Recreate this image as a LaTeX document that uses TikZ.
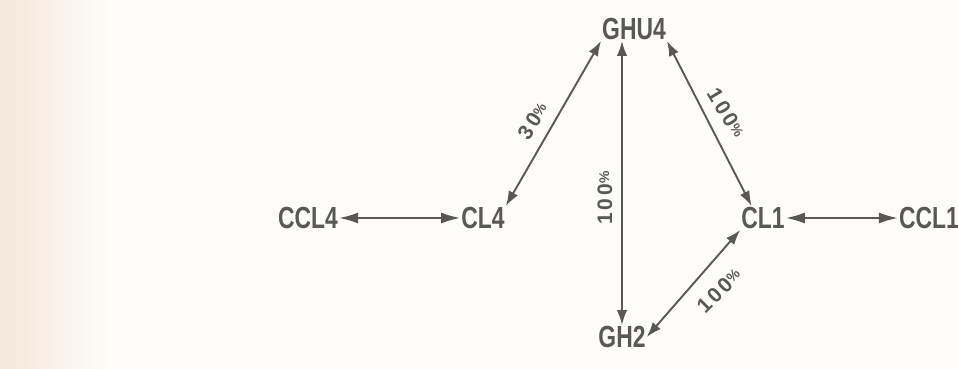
\documentclass[tikz,border=0pt]{standalone}
\usepackage{fontspec}
\newfontfamily\nodefont[FakeStretch=0.75]{Liberation Sans}
\newfontfamily\pctfont[LetterSpace=14]{Liberation Sans}
\usetikzlibrary{arrows.meta,calc}
\definecolor{ink}{HTML}{585858}
\definecolor{paper}{HTML}{FDFCF8}
\definecolor{bleed}{HTML}{F3E7D9}
\begin{document}
\begin{tikzpicture}[x=1pt,y=-1pt,
  site/.style={font=\nodefont\bfseries\fontsize{30.5}{30}\selectfont, text=ink, inner sep=1pt},
  share/.style={font=\pctfont\bfseries\fontsize{21}{21}\selectfont, text=ink, inner sep=0pt},
  link/.style={draw=ink, line width=1.9pt, {Latex[length=15pt,width=10.5pt]}-{Latex[length=15pt,width=10.5pt]}},
  longlink/.style={link, {Latex[length=19pt,width=11pt]}-{Latex[length=19pt,width=11pt]}}]
  % page and the warm strip along its left edge
  \fill[paper] (0,0) rectangle (958,369);
  \shade[left color=bleed, right color=paper] (0,0) rectangle (110,369);
  \useasboundingbox (0,0) rectangle (958,369);

  % sites
  \node[site] (ghu4) at (634,29)  {GHU4};
  \node[site] (ccl4) at (308,218) {CCL4};
  \node[site] (cl4)  at (483,218) {CL4};
  \node[site] (cl1)  at (763,218) {CL1};
  \node[site] (ccl1) at (929,218) {CCL1};
  \node[site] (gh2)  at (622,337) {GH2};

  % links
  \draw[longlink] (ccl4.east) -- (cl4.west);
  \draw[longlink] (cl1.east) -- (ccl1.west);
  \draw[link] (cl4.north east) -- (ghu4.south west);
  \draw[link] (gh2.north) -- (gh2.north |- ghu4.south);
  \draw[link] (ghu4.south east) -- ($(cl1.north west)!0.25!(cl1.north east)$);
  \draw[link] (gh2.east) -- (cl1.south west);

  % shares
  \newcommand{\pc}{{\fontsize{14}{14}\selectfont\raisebox{3pt}{\%}}}
  \node[share, rotate=57]  (s30)  at (533,121) {30\pc};
  \node[share, rotate=90]  (s100a) at (605,198) {100\pc};
  \node[share, rotate=-59] (s100b) at (726,113) {100\pc};
  \node[share, rotate=45]  (s100c) at (719,291) {100\pc};
\end{tikzpicture}
\end{document}
